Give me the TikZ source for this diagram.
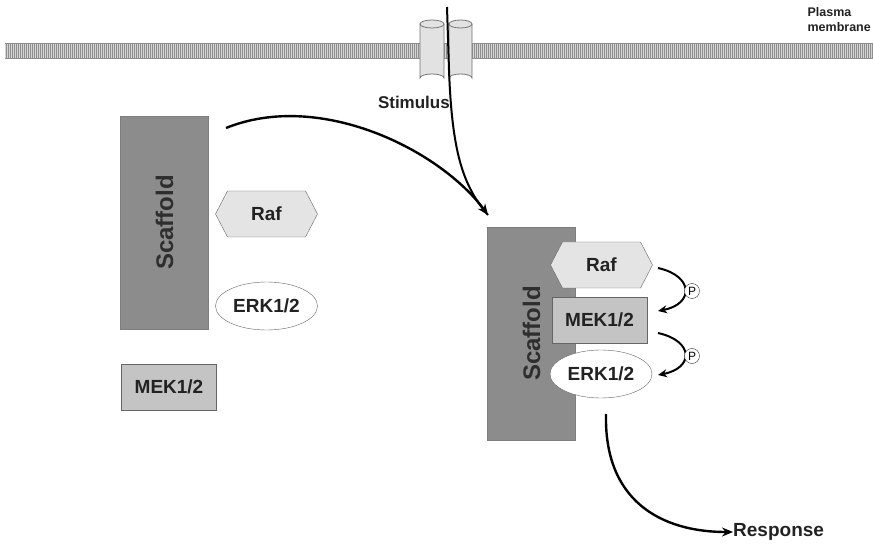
\documentclass[tikz,border=0pt]{standalone}
\usepackage{fontspec}
\setmainfont{Liberation Sans}
\usetikzlibrary{shapes.geometric,shapes.symbols,arrows.meta}
\definecolor{scafgray}{HTML}{8C8C8C}
\definecolor{rafgray}{HTML}{E4E4E4}
\definecolor{mekgray}{HTML}{C4C4C4}
\definecolor{txt}{HTML}{222222}
\definecolor{memfill}{HTML}{D6D6D6}
\definecolor{memline}{HTML}{8E8E8E}
\definecolor{cylfill}{HTML}{E2E2E2}
\begin{document}
\begin{tikzpicture}[x=1pt,y=-1pt,
  lbl/.style={font=\bfseries\fontsize{19}{21}\selectfont, text=txt},
  scaf/.style={rotate=90, fill=scafgray, draw=scafgray!90!black, minimum width=213pt, minimum height=88pt, inner sep=0pt, font=\bfseries\fontsize{24}{26}\selectfont, text=black!82},
  raf/.style={lbl, signal, signal to=east and west, signal pointer angle=125, fill=rafgray, draw=black!60, minimum width=102pt, minimum height=46pt, inner sep=0pt},
  mek/.style={lbl, rectangle, fill=mekgray, draw=black!60, minimum width=95pt, minimum height=46pt, inner sep=0pt},
  erk/.style={lbl, ellipse, fill=white, draw=black!60, minimum width=102pt, minimum height=48pt, inner sep=0pt},
  pcirc/.style={circle, draw=black!80, fill=white, minimum size=15pt, inner sep=0pt, font=\fontsize{12}{12}\selectfont},
  bigarrow/.style={line width=2.4pt, -{Stealth[length=11pt,width=9pt]}},
  parrow/.style={line width=2pt, -{Stealth[length=9pt,width=8pt]}},
  cyl/.style={fill=cylfill, draw=black!55, line width=0.8pt}
]
\useasboundingbox (0,0) rectangle (873,545);
% membrane
\fill[memfill] (5,43) rectangle (873,58);
\foreach \x in {6,8,...,872} \draw[memline, line width=0.55pt] (\x,43) -- (\x,58);
\draw[memline] (5,43) -- (873,43) (5,58) -- (873,58);
% channel cylinders
\path[cyl] (420,24) -- (420,78) arc[start angle=180, end angle=360, x radius=12, y radius=4] -- (444,24);
\path[cyl] (432,24) ellipse[x radius=12, y radius=4];
\path[cyl] (449,24) -- (449,78) arc[start angle=180, end angle=360, x radius=11.5, y radius=4] -- (472,24);
\path[cyl] (460.5,24) ellipse[x radius=11.5, y radius=4];
\node[font=\bfseries\fontsize{12.5}{15.5}\selectfont, text=txt, align=left, anchor=north east, inner sep=0pt] (pm) at (871,7) {Plasma\\membrane};
% left group
\node[scaf] (scafL) at (164.5,222.5) {Scaffold};
\node[raf] (rafL) at (266.5,214) {Raf};
\node[erk] (erkL) at (266.5,306) {ERK1/2};
\node[mek] (mekL) at (169,387) {MEK1/2};
% right group
\node[scaf] (scafR) at (531.5,333.5) {Scaffold};
\node[raf] (rafR) at (601.5,265) {Raf};
\node[mek] (mekR) at (599.5,320) {MEK1/2};
\node[erk] (erkR) at (601,374) {ERK1/2};
% stimulus
\coordinate (stimtop) at (447,7);
\coordinate (target) at (488,215);
\coordinate (curvestart) at (226,128);
\node[lbl, font=\bfseries\fontsize{17}{19}\selectfont, anchor=east, inner sep=0pt] (stim) at (450,102) {Stimulus};
\draw[line width=2pt] (stimtop) -- (449,70) .. controls (452,150) and (462,185) .. (target);
\draw[bigarrow] (curvestart) .. controls (320,90) and (440,150) .. (target);
% phosphorylation
\coordinate (p1s) at (658,268);
\coordinate (p1e) at (658,311);
\coordinate (p2s) at (658,333);
\coordinate (p2e) at (658,375);
\draw[parrow] (p1s) .. controls (694,276) and (694,304) .. (p1e);
\draw[parrow] (p2s) .. controls (694,341) and (694,368) .. (p2e);
\node[pcirc] (P1) at (692,291) {P};
\node[pcirc] (P2) at (692,356) {P};
% response
\coordinate (respstart) at (606,414);
\node[lbl, anchor=west, inner sep=0pt] (resp) at (733,532) {Response};
\draw[bigarrow] (respstart) .. controls (604,500) and (660,532) .. (resp.west);
\end{tikzpicture}
\end{document}
